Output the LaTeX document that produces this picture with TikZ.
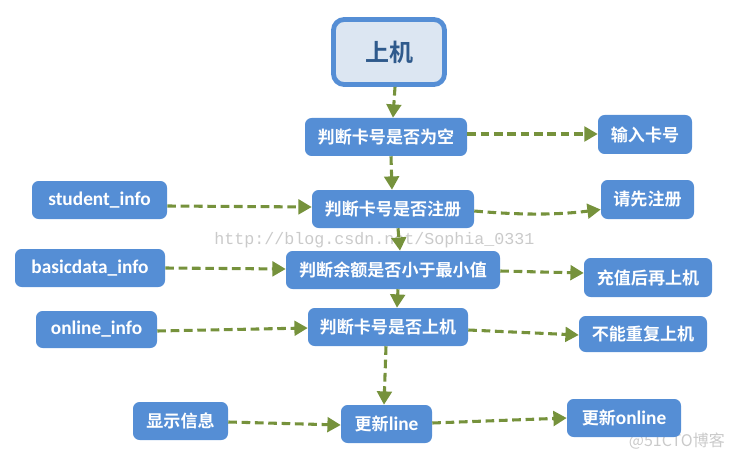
\documentclass[tikz,border=0pt]{standalone}
\usepackage{fontspec}
\setmainfont{Carlito}
\newfontfamily\cjk{Noto Sans CJK SC}[BoldFont={Noto Sans CJK SC Bold}]
\newfontfamily\wmono{Liberation Mono}
\newfontfamily\wcjk{Noto Sans CJK SC}
\usetikzlibrary{arrows.meta,calc}
\definecolor{boxblue}{HTML}{558ED5}
\definecolor{topfill}{HTML}{DCE6F2}
\definecolor{topborder}{HTML}{558ED5}
\definecolor{toptext}{HTML}{2F5A8C}
\definecolor{arrgreen}{HTML}{76923C}
\definecolor{wm}{HTML}{CACACA}
\tikzset{
  sz/.style 2 args={minimum width=#1*0.75pt, minimum height=#2*0.75pt},
  box/.style={draw=none, fill=boxblue, rounded corners=5pt, inner sep=0pt,
    text=white, font=\bfseries\fontsize{12.8pt}{14pt}\selectfont},
  latinbox/.style={box, font=\bfseries\fontsize{14.5pt}{16pt}\selectfont},
  topbox/.style={draw=topborder, line width=3.6pt, fill=topfill, rounded corners=8pt,
    inner sep=0pt, text=toptext, font=\cjk\bfseries\fontsize{18pt}{20pt}\selectfont},
  flow/.style={draw=arrgreen, line width=2.3pt, dash pattern=on 6.5pt off 3.5pt,
    -{Triangle[length=10pt,width=11pt,fill=arrgreen]}}
}
\begin{document}
\begin{tikzpicture}[x=0.75pt,y=-0.75pt]
\useasboundingbox (0,0) rectangle (729,460);
% watermarks
\node[anchor=west, text=wm, font=\wmono\fontsize{12.5pt}{14pt}\selectfont, inner sep=0pt] (wm1) at (214,240) {http://blog.csdn.net/Sophia\_0331};
\node[anchor=east, text=wm, font=\wcjk\fontsize{12pt}{13pt}\selectfont, inner sep=0pt] (wm2) at (725,441) {@51CTO博客};
% nodes
\node[topbox, sz={111}{65}] (top) at (389,52) {上机};
\node[box, sz={162}{38}] (n1) at (386,137) {\cjk 判断卡号是否为空};
\node[box, sz={94}{39}] (in1) at (645,134.5) {\cjk 输入卡号};
\node[latinbox, sz={135}{38}] (si) at (99.5,200) {student\_info};
\node[box, sz={162}{38}] (n2) at (393,209) {\cjk 判断卡号是否注册};
\node[box, sz={93}{39}] (in2) at (647.5,199.5) {\cjk 请先注册};
\node[latinbox, sz={150}{38}] (bi) at (90,268) {basicdata\_info};
\node[box, sz={214}{38}] (n3) at (393,270) {\cjk 判断余额是否小于最小值};
\node[box, sz={128}{39}] (in3) at (648,277.5) {\cjk 充值后再上机};
\node[latinbox, sz={121}{37}] (oi) at (96.5,329.5) {online\_info};
\node[box, sz={160}{38}] (n4) at (388,327) {\cjk 判断卡号是否上机};
\node[box, sz={128}{36}] (in4) at (643,334) {\cjk 不能重复上机};
\node[box, sz={95}{38}] (xs) at (180.5,421) {\cjk 显示信息};
\node[box, sz={91}{38}] (ul) at (386.5,424) {{\cjk 更新}\fontsize{14.5pt}{16pt}\selectfont line};
\node[box, sz={114}{38}] (uo) at (624,418) {{\cjk 更新}\fontsize{14.5pt}{16pt}\selectfont online};
% connectors
\draw[flow] ($(top.south)+(6,0)$) -- ($(n1.north)+(7,0)$);
\draw[flow] ($(n1.east)+(0,-3)$) -- ($(in1.west)+(0,-0.5)$);
\draw[flow] ($(n1.south)+(5,0)$) -- ($(n2.north)+(-1,0)$);
\draw[flow] ($(si.east)+(0,6)$) -- ($(n2.west)+(0,-2)$);
\draw[flow] ($(n2.east)+(0,2)$) .. controls (530,216) and (565,214) .. ($(in2.west)+(0,10)$);
\draw[flow] ($(n2.south)+(5,0)$) -- ($(n3.north)+(7,0)$);
\draw[flow] (bi.east) -- ($(n3.west)+(0,-1)$);
\draw[flow] ($(n3.east)+(0,1)$) -- ($(in3.west)+(0,-4.5)$);
\draw[flow] ($(n3.south)+(5,0)$) -- ($(n4.north)+(9,0)$);
\draw[flow] ($(oi.east)+(0,1.5)$) -- ($(n4.west)+(0,1)$);
\draw[flow] ($(n4.east)+(0,3)$) -- ($(in4.west)+(0,1)$);
\draw[flow] ($(n4.south)+(-2,0)$) -- ($(ul.north)+(-2.5,0)$);
\draw[flow] ($(xs.east)+(0,1)$) -- ($(ul.west)+(0,1)$);
\draw[flow] ($(ul.east)+(0,-1)$) -- (uo.west);
\end{tikzpicture}
\end{document}
